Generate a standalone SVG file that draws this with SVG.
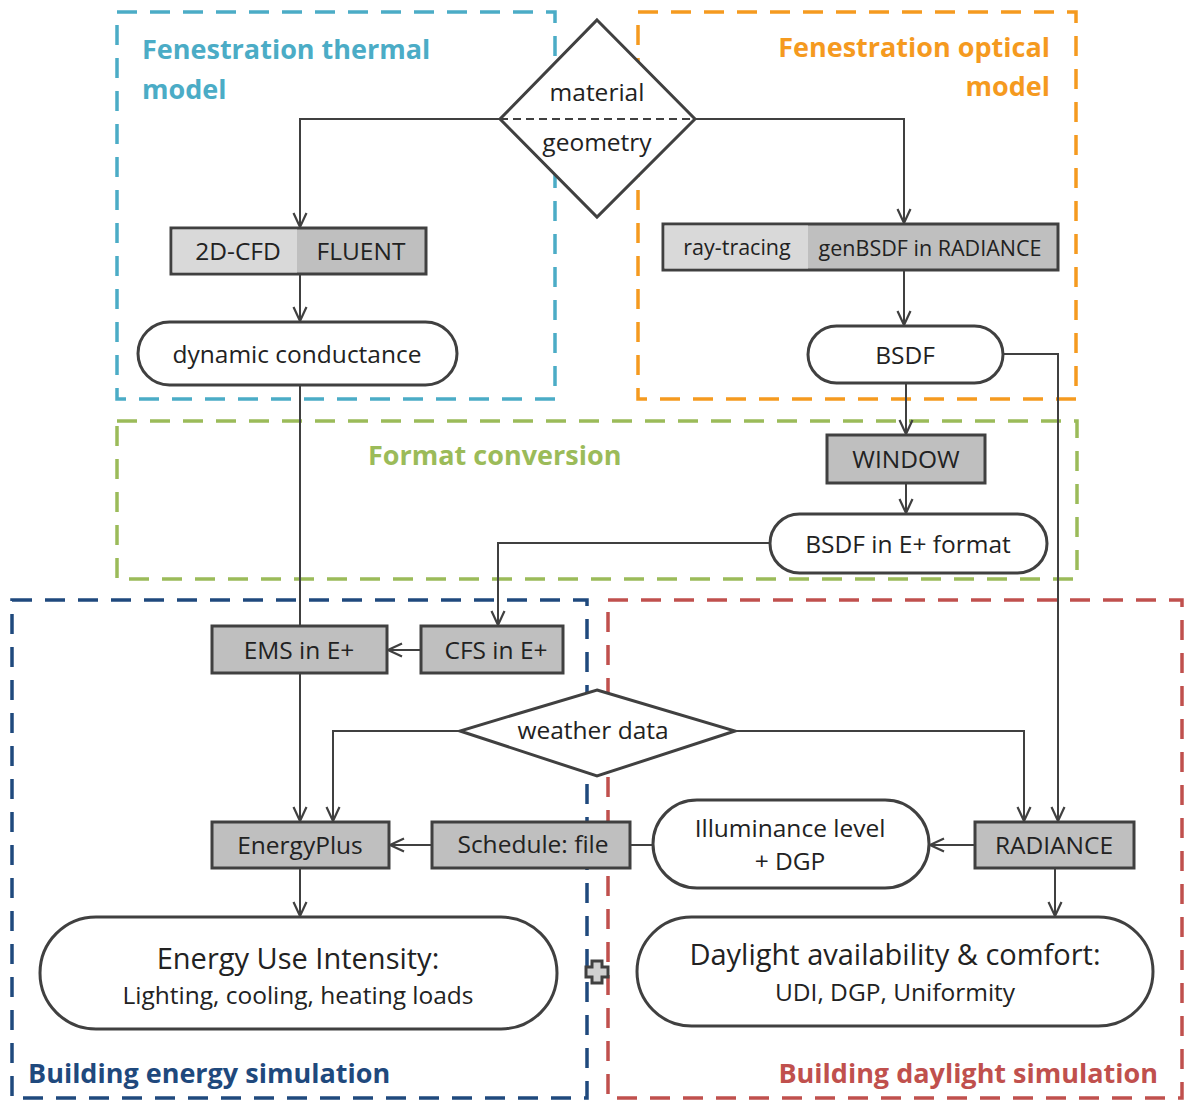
<svg xmlns="http://www.w3.org/2000/svg" width="1184" height="1102" viewBox="0 0 1184 1102">
<defs>
<marker id="arr" viewBox="0 0 16 16" refX="15" refY="8" markerWidth="16" markerHeight="16" markerUnits="userSpaceOnUse" orient="auto">
<path d="M1,1.5 L15,8 L1,14.5" fill="none" stroke="#404040" stroke-width="2.2"/>
</marker>
<style>
.frame{fill:none;stroke-width:3.5;stroke-dasharray:20 13}
.box{fill:#bfbfbf;stroke:#404040;stroke-width:3}
.lite{fill:#d9d9d9;stroke:none}
.pill{fill:#fff;stroke:#404040;stroke-width:3}
.dia{fill:#fff;stroke:#404040;stroke-width:3}
.c{fill:none;stroke:#404040;stroke-width:2}
.ca{fill:none;stroke:#404040;stroke-width:2;marker-end:url(#arr)}
text{font-family:"Open Sans","Noto Sans","Liberation Sans",sans-serif;fill:#222}
.t{font-size:24.5px;text-anchor:middle}
.s{font-size:21.5px}
.b{font-size:29px}
.h{font-size:27px;font-weight:bold}
</style>
</defs>
<rect width="1184" height="1102" fill="#fff"/>

<g id="frames">
<rect class="frame" x="117" y="12" width="438" height="387" stroke="#4bacc6"/>
<rect class="frame" x="638" y="12" width="438" height="387" stroke="#f59a1f"/>
<rect class="frame" x="117" y="421" width="960" height="158" stroke="#9bbb59"/>
<rect class="frame" x="12" y="600" width="575" height="498" stroke="#1f497d"/>
<rect class="frame" x="608" y="600" width="574" height="498" stroke="#c0504d"/>
<text class="h" x="142" y="59" style="fill:#4bacc6">Fenestration thermal</text>
<text class="h" x="142" y="99" style="fill:#4bacc6">model</text>
<text class="h" x="1050" y="57" text-anchor="end" style="fill:#f59a1f">Fenestration optical</text>
<text class="h" x="1050" y="96" text-anchor="end" style="fill:#f59a1f">model</text>
<text class="h" x="368" y="465" style="fill:#9bbb59">Format conversion</text>
<text class="h" x="28" y="1083" style="fill:#1f497d">Building energy simulation</text>
<text class="h" x="1158" y="1083" text-anchor="end" style="fill:#c0504d">Building daylight simulation</text>
</g>

<g id="connectors">
<polyline class="ca" points="500,119 300,119 300,227"/>
<polyline class="ca" points="695,119 904,119 904,223"/>
<polyline class="ca" points="300,274 300,321"/>
<polyline class="c" points="300,385 300,626"/>
<polyline class="ca" points="904,270 904,325"/>
<polyline class="ca" points="906,383 906,434"/>
<polyline class="ca" points="906,483 906,513"/>
<polyline class="ca" points="1003,354 1058,354 1058,821"/>
<polyline class="ca" points="770,543 498,543 498,625"/>
<polyline class="ca" points="421,650 388,650"/>
<polyline class="ca" points="300,673 300,821"/>
<polyline class="ca" points="460,731 333,731 333,821"/>
<polyline class="ca" points="735,731 1024,731 1024,821"/>
<polyline class="ca" points="432,845 390,845"/>
<polyline class="c" points="653,845 630,845"/>
<polyline class="ca" points="975,845 930,845"/>
<polyline class="ca" points="300,868 300,916"/>
<polyline class="ca" points="1055,868 1055,916"/>
</g>

<g id="material-geometry">
<polygon class="dia" points="597,20 695,119 597,217 500,119"/>
<line x1="500" y1="119" x2="695" y2="119" stroke="#404040" stroke-width="2" stroke-dasharray="8 5"/>
<text class="t" x="597" y="101">material</text>
<text class="t" x="597" y="151">geometry</text>
</g>

<g id="cfd-fluent">
<rect class="box" x="171" y="228" width="255" height="46"/>
<rect class="lite" x="172.5" y="229.5" width="124.5" height="43"/>
<text class="t" x="238" y="260">2D-CFD</text>
<text class="t" x="361" y="260">FLUENT</text>
</g>

<g id="dynamic-conductance">
<rect class="pill" x="138" y="322" width="319" height="63" rx="31.5"/>
<text class="t" x="297" y="363">dynamic conductance</text>
</g>

<g id="raytracing-genbsdf">
<rect class="box" x="663" y="224" width="395" height="46"/>
<rect class="lite" x="664.5" y="225.5" width="143.5" height="43"/>
<text class="t s" x="737" y="255">ray-tracing</text>
<text class="t s" x="930" y="256">genBSDF in RADIANCE</text>
</g>

<g id="bsdf">
<rect class="pill" x="808" y="326" width="195" height="57" rx="28.5"/>
<text class="t" x="905" y="364">BSDF</text>
</g>

<g id="window">
<rect class="box" x="827" y="435" width="158" height="48"/>
<text class="t" x="906" y="468">WINDOW</text>
</g>

<g id="bsdf-eplus">
<rect class="pill" x="770" y="514" width="277" height="59" rx="29.5"/>
<text class="t" x="908" y="553">BSDF in E+ format</text>
</g>

<g id="cfs">
<rect class="box" x="421" y="626" width="142" height="47"/>
<text class="t" x="496" y="659">CFS in E+</text>
</g>

<g id="ems">
<rect class="box" x="212" y="626" width="175" height="47"/>
<text class="t" x="299" y="659">EMS in E+</text>
</g>

<g id="weather">
<polygon class="dia" points="597,690 735,731 597,776 460,731"/>
<text class="t" x="593" y="739">weather data</text>
</g>

<g id="energyplus">
<rect class="box" x="212" y="822" width="177" height="46"/>
<text class="t" x="300" y="854">EnergyPlus</text>
</g>

<g id="schedule">
<rect class="box" x="432" y="822" width="198" height="46"/>
<text class="t" x="533" y="853">Schedule: file</text>
</g>

<g id="illuminance">
<rect class="pill" x="653" y="800" width="276" height="88" rx="44"/>
<text class="t" x="790" y="837">Illuminance level</text>
<text class="t" x="790" y="870">+ DGP</text>
</g>

<g id="radiance">
<rect class="box" x="975" y="822" width="159" height="46"/>
<text class="t" x="1054" y="854">RADIANCE</text>
</g>

<g id="eui">
<rect class="pill" x="40" y="917" width="517" height="112" rx="56"/>
<text class="t b" x="298" y="969">Energy Use Intensity:</text>
<text class="t" x="298" y="1004">Lighting, cooling, heating loads</text>
</g>

<g id="daylight">
<rect class="pill" x="637" y="917" width="516" height="109" rx="54.5"/>
<text class="t b" x="895" y="965">Daylight availability &amp; comfort:</text>
<text class="t" x="895" y="1001">UDI, DGP, Uniformity</text>
</g>

<g id="plus">
<path d="M592,961 h10 v6 h6 v10 h-6 v6 h-10 v-6 h-6 v-10 h6 z" fill="#d0d0d0" stroke="#404040" stroke-width="3"/>
</g>
</svg>
